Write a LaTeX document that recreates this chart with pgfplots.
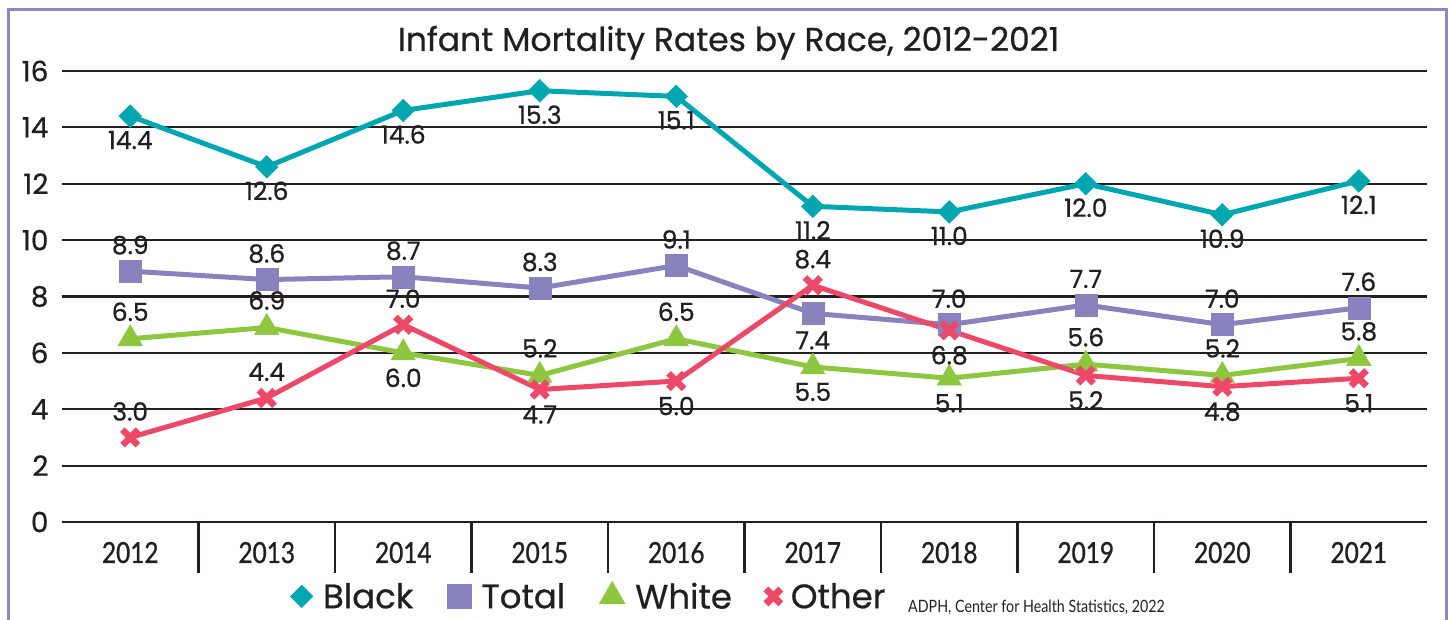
\documentclass[border=0pt]{standalone}
\usepackage{fontspec}
\setmainfont{Poppins}[FakeBold=0.6]
\newfontfamily\condfont[FakeStretch=0.84]{Lato}
\newfontfamily\yearfont[FakeStretch=0.84, FakeBold=1]{Lato}
\usepackage{pgfplots}
\usepackage{pgfplotstable}
\pgfplotsset{compat=1.18}

\definecolor{cBlack}{RGB}{0,167,176}
\definecolor{cTotal}{RGB}{136,130,190}
\definecolor{cWhite}{RGB}{141,198,63}
\definecolor{cOther}{RGB}{238,72,104}
\definecolor{gridk}{RGB}{35,31,32}
\definecolor{frame}{RGB}{142,134,198}

\pgfplotstableread{
x y off
0 14.4 -24
1 12.6 -24
2 14.6 -24
3 15.3 -24
4 15.1 -24
5 11.2 -24
6 11.0 -24
7 12.0 -24
8 10.9 -24
9 12.1 -24
}\tblBlack
\pgfplotstableread{
x y off
0 8.9 26
1 8.6 26
2 8.7 26
3 8.3 26
4 9.1 26
5 7.4 -27
6 7.0 26
7 7.7 26
8 7.0 26
9 7.6 26
}\tblTotal
\pgfplotstableread{
x y off
0 6.5 27
1 6.9 27
2 6.0 -25
3 5.2 27
4 6.5 27
5 5.5 -25
6 5.1 -25
7 5.6 27
8 5.2 27
9 5.8 27
}\tblWhite
\pgfplotstableread{
x y off
0 3.0 26
1 4.4 26
2 7.0 26
3 4.7 -25
4 5.0 -25
5 8.4 26
6 6.8 -25
7 5.2 -25
8 4.8 -25
9 5.1 -25
}\tblOther

\pgfplotsset{
  lbl/.style={
    nodes near coords,
    point meta=explicit,
    visualization depends on={\thisrow{off}\as\off},
    nodes near coords style={anchor=center, yshift=\off, text=gridk,
      font=\fontsize{25}{27}\selectfont,
      /pgf/number format/.cd, fixed, fixed zerofill, precision=1, assume math mode=true},
  }
}

\begin{document}
\begin{tikzpicture}
\begin{axis}[
  scale only axis, width=1365pt, height=451pt,
  xmin=-0.5, xmax=9.5, ymin=0, ymax=16,
  clip=false,
  axis line style={draw=none},
  tick pos=left,
  xtick={0,...,9},
  xticklabels={2012,2013,2014,2015,2016,2017,2018,2019,2020,2021},
  minor xtick={0.5,1.5,...,8.5},
  ytick={0,2,...,16},
  major tick length=0pt,
  minor tick length=51pt,
  tick align=outside,
  tick style={line width=2.2pt, color=gridk},
  ymajorgrids,
  major grid style={line width=2.2pt, color=gridk},
  /pgf/number format/assume math mode=true,
  yticklabel style={font=\fontsize{28}{30}\selectfont, text=gridk, xshift=-10pt},
  xticklabel style={font=\yearfont\fontsize{29}{31}\selectfont, text=gridk, anchor=base, yshift=-41pt},
  title={Infant Mortality Rates by Race, 2012-2021},
  title style={font=\fontsize{33}{36}\selectfont, text=gridk, anchor=base, at={(axis description cs:0.5,1)}, yshift=14pt, xshift=-16pt},
  legend columns=4,
  legend style={draw=none, fill=none, inner sep=0pt, at={(axis description cs:0.386,-0.165)}, anchor=center,
    font=\fontsize{34}{36}\selectfont, text=gridk,
    /tikz/every odd column/.append style={column sep=8pt},
    /tikz/every even column/.append style={column sep=32pt}},
]
\addplot[cBlack, line width=5pt, lbl, mark=square*, mark size=8pt, mark options={rotate=45, fill=cBlack, draw=cBlack, line width=0.5pt}, forget plot]
  table[x=x, y=y, meta=y] {\tblBlack};
\addplot[cTotal, line width=5pt, lbl, mark=square*, mark size=11pt, mark options={fill=cTotal, draw=cTotal, line width=0.5pt}, forget plot]
  table[x=x, y=y, meta=y] {\tblTotal};
\addplot[cWhite, line width=5pt, lbl, mark=triangle*, mark size=14pt, mark options={fill=cWhite, draw=cWhite, line width=0.5pt}, forget plot]
  table[x=x, y=y, meta=y] {\tblWhite};
\addplot[cOther, line width=5pt, lbl, mark=x, mark size=11pt, mark options={draw=cOther, line width=6.5pt}, forget plot]
  table[x=x, y=y, meta=y] {\tblOther};

\addlegendimage{only marks, mark=square*, mark size=8pt, mark options={rotate=45, fill=cBlack, draw=cBlack}}
\addlegendentry{Black}
\addlegendimage{only marks, mark=square*, mark size=12pt, mark options={fill=cTotal, draw=cTotal}}
\addlegendentry{Total}
\addlegendimage{only marks, mark=triangle*, mark size=15pt, mark options={fill=cWhite, draw=cWhite}}
\addlegendentry{White}
\addlegendimage{only marks, mark=x, mark size=10.5pt, mark options={draw=cOther, line width=7pt}}
\addlegendentry{Other}
\end{axis}
\pgfresetboundingbox
\path[use as bounding box] (-62pt,-98pt) rectangle (1388pt,522pt);
\draw[frame, line width=3pt] (-53pt,-130pt) rectangle (1384pt,512pt);
\node[anchor=west, text=gridk, inner sep=0pt] at (846pt,-85pt) {\condfont\fontsize{17}{19}\selectfont ADPH, Center for Health Statistics, 2022};
\end{tikzpicture}
\end{document}
